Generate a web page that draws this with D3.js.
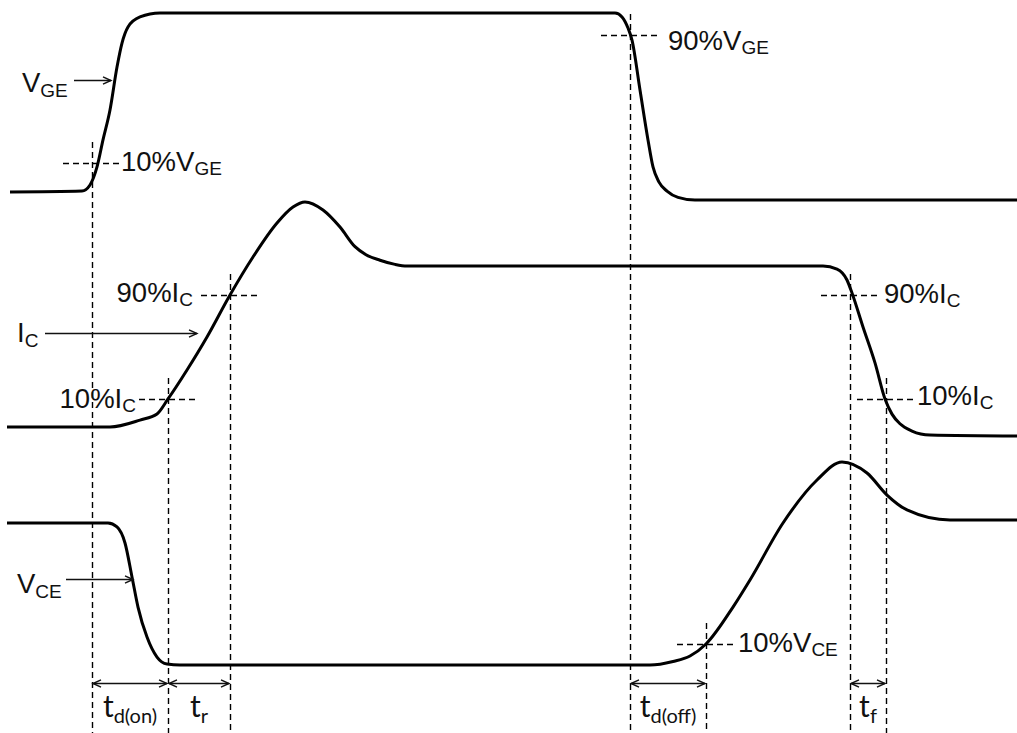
<!DOCTYPE html>
<html>
<head>
<meta charset="utf-8">
<script src="https://cdn.jsdelivr.net/npm/d3@7"></script>
<style>
  html, body { margin: 0; padding: 0; background: #fff; }
  svg { display: block; }
  .sig { font-family: "Liberation Sans", Arial, sans-serif; font-size: 27.5px; fill: #111; }
  .tlab { font-family: Lato, "Open Sans", sans-serif; font-size: 30px; fill: #111; }
</style>
</head>
<body>
<svg id="chart" width="1017" height="733"></svg>
<script>
// IGBT switching waveforms: time in arbitrary units, levels in % of the settled value.
const vgePoints = [
  [1.0, 0], [8.2, 0.5], [9.0, 3.9], [9.7, 14.0], [10.3, 29.1], [11.0, 45.8],
  [11.7, 69.8], [12.2, 83.2], [12.8, 92.2], [14.0, 97.8], [16.0, 100],
  [61.5, 100], [62.2, 97.8], [62.8, 91.6], [63.2, 84.9], [64.0, 57.0],
  [64.8, 29.1], [65.3, 14.0], [65.9, 5.5], [66.7, 0.5], [67.8, -3.0],
  [69.5, -4.5], [101.7, -4.5]
];
const icPoints = [
  [0.7, 0], [11.0, 0], [14.0, 4.3], [15.7, 8.1], [16.8, 17.4], [18.7, 35.4],
  [20.7, 55.9], [23.0, 82.0], [25.3, 105.6], [27.7, 126.7], [29.3, 136.6],
  [30.5, 139.8], [32.3, 134.8], [34.0, 124.2], [35.5, 112.0], [36.6, 107.0],
  [38.0, 103.6], [39.5, 101.0], [40.7, 100], [82.3, 100], [83.7, 98.1],
  [84.7, 91.3], [85.2, 83.2], [86.3, 62.1], [87.5, 39.8], [88.5, 17.4],
  [89.2, 8.0], [90.0, 2.0], [91.2, -2.5], [93.0, -5.0], [101.7, -5.6]
];
const vcePoints = [
  [0.7, 100], [10.8, 100], [11.7, 97.2], [12.5, 85.9], [13.2, 62.0], [13.8, 40.8],
  [14.7, 19.7], [15.7, 5.6], [16.7, 0.7], [18.0, 0], [65.0, 0], [67.3, 2.5],
  [69.0, 6.3], [70.6, 14.8], [73.3, 40.8], [75.0, 59.9], [78.3, 100],
  [81.7, 130.3], [84.2, 143.0], [86.7, 135.2], [88.7, 119.7], [90.7, 109.2],
  [95.0, 102.1], [101.7, 102.1]
];

// Threshold crossings: trace, time, level (%), label text and subscript
const markerTrace = ["vge", "vge", "ic", "ic", "ic", "ic", "vce"];
const markerTime  = [9.2, 63.0, 16.8, 23.0, 85.0, 88.6, 70.6];
const markerLevel = [16.2, 87.7, 17.4, 82.0, 82.0, 17.4, 14.8];
const markerText  = ["10%V", "90%V", "10%I", "90%I", "90%I", "10%I", "10%V"];
const markerSub   = ["GE", "GE", "C", "C", "C", "C", "CE"];

// Switching intervals between crossing times
const intervalStart = [9.2, 16.8, 63.0, 85.0];
const intervalEnd   = [16.8, 23.0, 70.6, 88.6];
const intervalName  = ["t", "t", "t", "t"];
const intervalSub   = ["d(on)", "r", "d(off)", "f"];

// Signal names
const signalKey  = ["vge", "ic", "vce"];
const signalName = ["V", "I", "V"];
const signalSub  = ["GE", "C", "CE"];

// ---- layout ----
const W = 1017, H = 733;
const svg = d3.select("#chart");

const x = d3.scaleLinear().domain([0, 101.7]).range([0, W]);
const y = {
  vge: d3.scaleLinear().domain([0, 100]).range([192, 13]),
  ic:  d3.scaleLinear().domain([0, 100]).range([427, 266]),
  vce: d3.scaleLinear().domain([0, 100]).range([665, 523])
};
const series = { vge: vgePoints, ic: icPoints, vce: vcePoints };

// label side and baseline offset of each crossing label
const markerSide = ["right", "right", "left", "left", "right", "right", "right"];
const markerDy   = [8, 15, 9, 7, 8, 6, 8];
const markerGap  = [0, 9, 3, 8, 5, 2, 3];

// signal name placement: text x, baseline y, arrow from x, to x, arrow y
const signalPos = {
  vge: { tx: 22, ty: 92, ax0: 74, ax1: 111, ay: 80 },
  ic:  { tx: 17, ty: 342, ax0: 45, ax1: 197, ay: 333 },
  vce: { tx: 17, ty: 593, ax0: 66, ax1: 133, ay: 579 }
};

// arrowhead
const defs = svg.append("defs");
defs.append("marker")
  .attr("id", "head")
  .attr("viewBox", "-10 -5 12 10")
  .attr("refX", 0).attr("refY", 0)
  .attr("markerWidth", 12).attr("markerHeight", 10)
  .attr("markerUnits", "userSpaceOnUse")
  .attr("orient", "auto-start-reverse")
  .append("path")
  .attr("d", "M-8,-3.6 L0,0 L-8,3.6")
  .attr("fill", "none")
  .attr("stroke", "#111")
  .attr("stroke-width", 1.4);

const dash = "6,4";
const gMarks = svg.append("g");
const px = v => Math.round(v) + 0.5;

// vertical timing lines
markerTime.forEach((t, i) => {
  const yl = y[markerTrace[i]](markerLevel[i]);
  gMarks.append("line")
    .attr("x1", px(x(t))).attr("x2", px(x(t)))
    .attr("y1", yl - 21).attr("y2", H)
    .attr("stroke", "#000").attr("stroke-width", 1.4)
    .attr("stroke-dasharray", dash);
});

// horizontal threshold lines and their labels
markerTime.forEach((t, i) => {
  const yl = y[markerTrace[i]](markerLevel[i]);
  const xa = x(t - 2.9), xb = x(t + 2.9);
  gMarks.append("line")
    .attr("x1", xa).attr("x2", xb)
    .attr("y1", px(yl)).attr("y2", px(yl))
    .attr("stroke", "#000").attr("stroke-width", 1.4)
    .attr("stroke-dasharray", dash);
  const right = markerSide[i] === "right";
  const txt = gMarks.append("text").attr("class", "sig")
    .attr("x", right ? xb + markerGap[i] : xa - markerGap[i])
    .attr("y", yl + markerDy[i])
    .attr("text-anchor", right ? "start" : "end");
  txt.append("tspan").text(markerText[i]);
  txt.append("tspan").attr("font-size", 19).attr("dy", 4).text(markerSub[i]);
});

// waveforms
const line = d3.line()
  .x(d => x(d[0]))
  .curve(d3.curveMonotoneX);
signalKey.forEach(k => {
  svg.append("path")
    .datum(series[k])
    .attr("d", line.y(d => y[k](d[1])))
    .attr("fill", "none")
    .attr("stroke", "#000")
    .attr("stroke-width", 3)
    .attr("stroke-linejoin", "round");
});

// signal names with pointer arrows
signalKey.forEach((k, i) => {
  const p = signalPos[k];
  const txt = svg.append("text").attr("class", "sig").attr("x", p.tx).attr("y", p.ty);
  txt.append("tspan").text(signalName[i]);
  txt.append("tspan").attr("font-size", 19).attr("dy", 5).text(signalSub[i]);
  svg.append("line")
    .attr("x1", p.ax0).attr("x2", p.ax1)
    .attr("y1", px(p.ay)).attr("y2", px(p.ay))
    .attr("stroke", "#111").attr("stroke-width", 1.4)
    .attr("marker-end", "url(#head)");
});

// switching time intervals
const intervalY = 683;
intervalStart.forEach((t0, i) => {
  const t1 = intervalEnd[i];
  svg.append("line")
    .attr("x1", x(t0) + 1).attr("x2", x(t1) - 1)
    .attr("y1", px(intervalY)).attr("y2", px(intervalY))
    .attr("stroke", "#111").attr("stroke-width", 1.4)
    .attr("marker-start", "url(#head)")
    .attr("marker-end", "url(#head)");
  const txt = svg.append("text").attr("class", "tlab")
    .attr("x", x((t0 + t1) / 2)).attr("y", 717)
    .attr("text-anchor", "middle");
  txt.append("tspan").text(intervalName[i]);
  txt.append("tspan").attr("font-size", 20).attr("dy", 6).text(intervalSub[i]);
});
</script>
</body>
</html>
